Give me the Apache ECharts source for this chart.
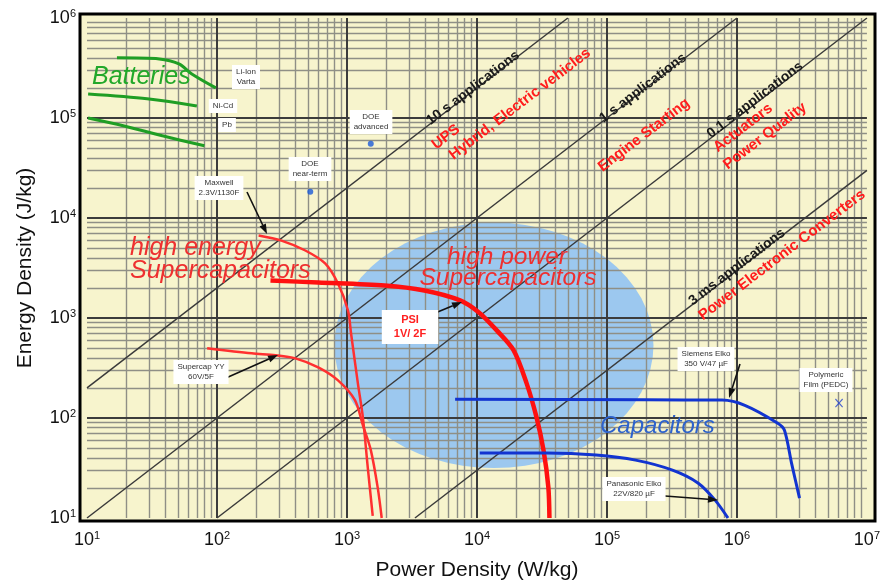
<!DOCTYPE html>
<html><head><meta charset="utf-8">
<script src="https://cdn.jsdelivr.net/npm/echarts@6/dist/echarts.min.js"></script>
<style>html,body{margin:0;padding:0;background:#fff}#c{width:883px;height:588px}</style>
</head><body><div id="c"></div>
<script>
// ---------- data ----------
const xTickValues = [10, 100, 1e3, 1e4, 1e5, 1e6, 1e7];
const yTickValues = [10, 100, 1e3, 1e4, 1e5, 1e6];

const liIon   = [[17, 400000], [36, 390000], [51, 347000], [64, 276000], [98, 200000]];
const niCd    = [[10.2, 174000], [29, 156000], [70, 132000]];
const lead    = [[10.2, 100000], [19, 83600], [38, 66400], [80, 52700]];

const maxwell = [[209, 6670], [313, 5940], [478, 4730], [679, 3510], [853, 2210], [1018, 1190],
                 [1075, 700], [1213, 222], [1325, 102], [1445, 32], [1578, 10.5]];
const supercapYY = [[84, 498], [185, 443], [282, 424], [401, 395], [601, 321], [853, 238],
                    [1151, 151], [1325, 85], [1524, 48], [1725, 20], [1850, 10]];
const psi = [[258, 2370], [601, 2265], [1950, 2113], [3940, 1884], [7410, 1500], [10350, 1137],
             [14200, 752], [19150, 475], [24100, 222], [28700, 102], [32500, 47.7], [35400, 20.4], [36100, 10]];

const siemens   = [[6790, 154], [200000, 152], [768000, 151], [1.15e6, 134], [2.06e6, 88.7],
                   [2.32e6, 75.5], [2.63e6, 35.4], [3.03e6, 15.8]];
const panasonic = [[10500, 44.6], [34200, 44.6], [82400, 42.6], [166000, 37.9], [319000, 30.1],
                   [504000, 22.3], [679000, 15.1], [853000, 10]];

const doePoints = [[1524, 55300], [522, 18300]];
const polymeric = [[6.1e6, 141]];

// constant discharge-time guide lines (end points)
const line10s  = [[10, 200], [5e4, 1e6]];
const line1s   = [[10, 10], [1e6, 1e6]];
const line01s  = [[100, 10], [1e7, 1e6]];
const line3ms  = [[3333, 10], [1e7, 30000]];

// high power supercapacitor region: [centre P, centre E, right edge P, top edge E]
const hpRegion = [[13500, 533, 228000, 9000]];

// ---------- chart ----------
const minorX = [], minorY = [];
for (let d = 1; d < 7; d++) for (let k = 2; k < 10; k++) minorX.push(k * Math.pow(10, d));
for (let d = 1; d < 6; d++) for (let k = 2; k < 10; k++) minorY.push(k * Math.pow(10, d));
const majorX = xTickValues.slice(1, -1), majorY = yTickValues.slice(1, -1);
const minorStyle = { color: '#8f8f86', width: 1.4, type: 'solid' };
const majorStyle = { color: '#3c3c3c', width: 2, type: 'solid' };
const gridMarks = []
  .concat(minorX.map(v => ({ xAxis: v, lineStyle: minorStyle })))
  .concat(minorY.map(v => ({ yAxis: v, lineStyle: minorStyle })))
  .concat(majorX.map(v => ({ xAxis: v, lineStyle: majorStyle })))
  .concat(majorY.map(v => ({ yAxis: v, lineStyle: majorStyle })));

const FONT = 'Liberation Sans, Arial, sans-serif';
const ANG = Math.atan(100 / 131);

function supLabel(v) {
  const e = Math.round(Math.log10(v));
  return '{b|10}{s|' + e + '}';
}
const rich = { b: { fontSize: 18, fontFamily: FONT, color: '#111' },
               s: { fontSize: 11, fontFamily: FONT, color: '#111', padding: [0, 0, 9, 0] } };

function curve(data, color, width) {
  return { type: 'line', data: data, symbol: 'none', smooth: 0.3, z: 8, silent: true,
           lineStyle: { color: color, width: width }, animation: false };
}
function guide(data) {
  return { type: 'line', data: data, symbol: 'none', z: 7, silent: true,
           lineStyle: { color: '#3a3a3a', width: 1.5, type: 'solid' }, animation: false };
}

const graphics = [];
graphics.push({ type: 'rect', z: -10, silent: true, shape: { x: 80, y: 14, width: 795, height: 507 },
                style: { fill: '#f7f4cd' } });
graphics.push({ type: 'rect', z: 100, silent: true, shape: { x: 80, y: 14, width: 795, height: 507 },
                style: { fill: 'none', stroke: '#000', lineWidth: 3 } });

function txt(x, y, text, st, rot) {
  graphics.push({ type: 'text', z: 110, x: x, y: y, rotation: rot || 0, silent: true,
    style: Object.assign({ text: text, fontFamily: FONT, align: 'center', verticalAlign: 'middle' }, st) });
}
function box(x, y, text, extra) {
  txt(x, y, text, Object.assign({ fontSize: 8, lineHeight: 10, fill: '#333', backgroundColor: '#fff',
    padding: [2, 4] }, extra || {}));
}
function arrow(x1, y1, x2, y2) {
  const a = Math.atan2(y2 - y1, x2 - x1), L = 10, W = 3.5;
  const bx = x2 - L * Math.cos(a), by = y2 - L * Math.sin(a);
  graphics.push({ type: 'line', z: 105, silent: true, shape: { x1: x1, y1: y1, x2: bx, y2: by },
                  style: { stroke: '#111', lineWidth: 1.6 } });
  graphics.push({ type: 'polygon', z: 105, silent: true,
    shape: { points: [[x2, y2], [bx + W * Math.sin(a), by - W * Math.cos(a)], [bx - W * Math.sin(a), by + W * Math.cos(a)]] },
    style: { fill: '#111' } });
}

// big region labels
txt(92, 77, 'Batteries', { fontSize: 25, fontStyle: 'italic', fill: '#22a82a', align: 'left' });
txt(130, 248, 'high energy', { fontSize: 25, fontStyle: 'italic', fill: '#ee3030', align: 'left' });
txt(130, 271, 'Supercapacitors', { fontSize: 25, fontStyle: 'italic', fill: '#ee3030', align: 'left' });
txt(507, 257, 'high power', { fontSize: 24.5, fontStyle: 'italic', fill: '#ee3030' });
txt(508, 278, 'Supercapacitors', { fontSize: 24.5, fontStyle: 'italic', fill: '#ee3030' });
txt(600, 426, 'Capacitors', { fontSize: 24, fontStyle: 'italic', fill: '#2d62cc', align: 'left' });

// guide line labels
const blk = { fontSize: 14, fontWeight: 'bold', fill: '#1a1a1a' };
const red = { fontSize: 15, fontWeight: 'bold', fill: '#ff1c1c' };
txt(473, 88, '10 s applications', blk, ANG);
txt(446, 137, 'UPS', red, ANG);
txt(520, 104, 'Hybrid, Electric vehicles', red, ANG);
txt(643, 88, '1 s applications', blk, ANG);
txt(644, 135, 'Engine Starting', red, ANG);
txt(755, 100, '0.1 s applications', blk, ANG);
txt(743, 128, 'Actuators', red, ANG);
txt(765, 136, 'Power Quality', red, ANG);
txt(737, 267, '3 ms applications', blk, ANG);
txt(782, 255, 'Power Electronic Converters', red, ANG);

// small annotation boxes
box(246, 77, 'Li-Ion\nVarta');
box(223, 106, 'Ni-Cd');
box(227, 125, 'Pb');
box(371, 122, 'DOE\nadvanced');
box(310, 169, 'DOE\nnear-term');
box(219, 188, 'Maxwell\n2.3V/1130F');
box(201, 372, 'Supercap YY\n60V/5F');
box(410, 327, 'PSI\n1V/ 2F', { fontSize: 11, lineHeight: 14, fontWeight: 'bold', fill: '#ff2020', align: 'center', padding: [3, 12] });
box(706, 359, 'Siemens Elko\n350 V/47 µF');
box(634, 489, 'Panasonic Elko\n22V/820 µF');
box(826, 380, 'Polymeric\nFilm (PEDC)');

arrow(247, 192, 267, 234);
arrow(226, 378, 278, 355);
arrow(423, 318, 462, 302);
arrow(740, 364, 729, 398);
arrow(665, 496, 718, 500);

const option = {
  animation: false,
  backgroundColor: '#fff',
  grid: { left: 87, right: 10, top: 18, bottom: 70 },
  xAxis: {
    type: 'log', logBase: 10, min: 10, max: 1e7,
    name: 'Power Density (W/kg)', nameLocation: 'middle', nameGap: 42,
    nameTextStyle: { fontSize: 21, fontFamily: FONT, color: '#111' },
    axisLine: { show: false }, axisTick: { show: false }, splitLine: { show: false },
    axisLabel: { margin: 12, formatter: supLabel, rich: rich }
  },
  yAxis: {
    type: 'log', logBase: 10, min: 10, max: 1e6,
    name: 'Energy Density (J/kg)', nameLocation: 'middle', nameGap: 51,
    nameTextStyle: { fontSize: 21, fontFamily: FONT, color: '#111' },
    axisLine: { show: false }, axisTick: { show: false }, splitLine: { show: false },
    axisLabel: { margin: 11, formatter: supLabel, rich: rich }
  },
  graphic: { elements: graphics },
  series: [
    { type: 'custom', z: 1, silent: true, data: hpRegion, encode: { x: [0, 2], y: [1, 3] },
      renderItem: function (params, api) {
        const c = api.coord([api.value(0), api.value(1)]);
        const r = api.coord([api.value(2), api.value(1)]);
        const t = api.coord([api.value(0), api.value(3)]);
        const rx = r[0] - c[0], ry = c[1] - t[1];
        return { type: 'circle', x: c[0], y: c[1], scaleY: ry / rx,
                 shape: { cx: 0, cy: 0, r: rx }, style: { fill: '#9cc8ef' } };
      } },
    { type: 'line', data: [], z: 2, silent: true,
      markLine: { z: 2, silent: true, symbol: ['none', 'none'], label: { show: false }, animation: false, data: gridMarks } },
    guide(line10s), guide(line1s), guide(line01s), guide(line3ms),
    curve(liIon, '#1f9e24', 3), curve(niCd, '#1f9e24', 3), curve(lead, '#1f9e24', 3),
    curve(maxwell, '#ff3030', 2.5), curve(supercapYY, '#ff3030', 2.5), curve(psi, '#ff1010', 4.5),
    curve(siemens, '#1234d0', 3), curve(panasonic, '#1234d0', 3),
    { type: 'scatter', data: doePoints, z: 9, symbol: 'circle', symbolSize: 6, silent: true,
      itemStyle: { color: '#1a5ad8' } },
    { type: 'scatter', data: polymeric, z: 9, silent: true, symbolSize: [8, 9],
      symbol: 'path://M0,1L1,0L5,4L9,0L10,1L6,5L10,9L9,10L5,6L1,10L0,9L4,5Z',
      itemStyle: { color: '#2040d0' } }
  ]
};
const chart = echarts.init(document.getElementById('c'));
chart.setOption(option);
</script></body></html>
